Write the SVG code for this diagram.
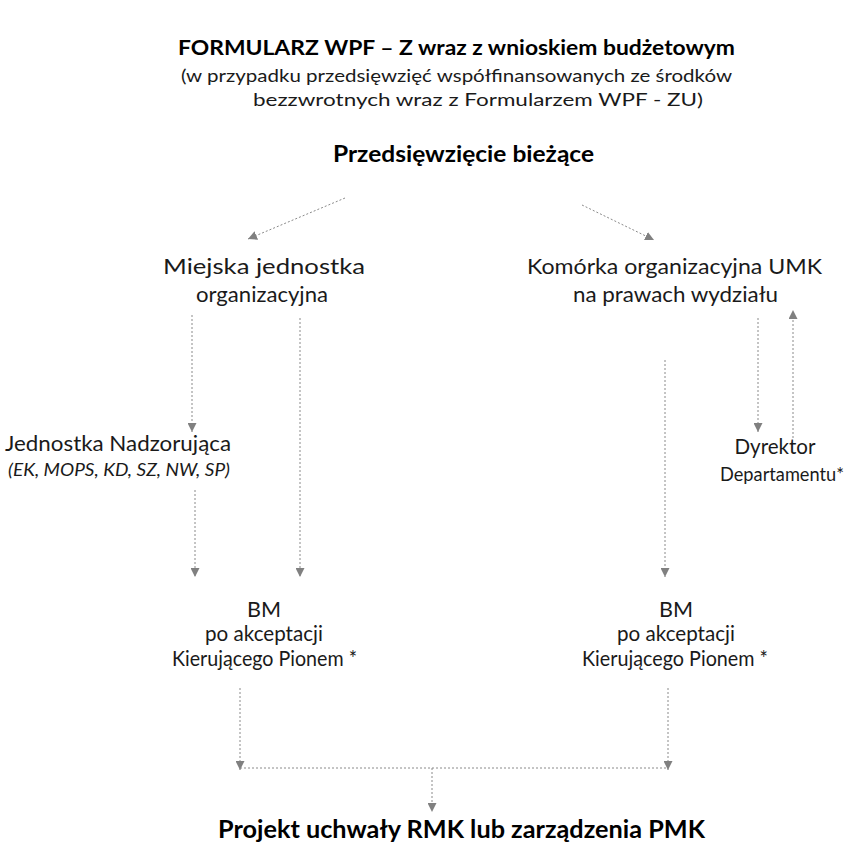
<svg xmlns="http://www.w3.org/2000/svg" width="851" height="850" viewBox="0 0 851 850">
<style>
text{font-family:"Lato","Open Sans","DejaVu Sans",sans-serif;fill:#1a1a1a;text-anchor:middle}
.b{font-weight:bold;fill:#000}
.t{font-size:21px}
.s{font-size:17.5px}
.n{font-size:21px}
.i{font-style:italic}
.c{fill:none;stroke:#8a8a8a;stroke-width:1;stroke-dasharray:2 2}
</style>
<defs>
<marker id="ah" viewBox="0 0 10 10" refX="10" refY="5" markerWidth="9" markerHeight="9" markerUnits="userSpaceOnUse" orient="auto">
<path d="M0,0 L10,5 L0,10 Z" fill="#808080"/>
</marker>
</defs>
<rect width="851" height="850" fill="#fff"/>
<g id="title">
<text class="b t" x="456.5" y="55" textLength="557" lengthAdjust="spacingAndGlyphs">FORMULARZ WPF – Z wraz z wnioskiem budżetowym</text>
<text class="s" x="456.5" y="82" textLength="551" lengthAdjust="spacingAndGlyphs">(w przypadku przedsięwzięć współfinansowanych ze środków</text>
<text class="s" x="478" y="106" textLength="450" lengthAdjust="spacingAndGlyphs">bezzwrotnych wraz z Formularzem WPF - ZU)</text>
</g>
<g id="n-przedsiewziecie">
<text class="b" style="font-size:22px" x="463.5" y="162" textLength="261" lengthAdjust="spacingAndGlyphs">Przedsięwzięcie bieżące</text>
</g>
<g id="n-miejska">
<text class="n" x="264" y="274" textLength="202" lengthAdjust="spacingAndGlyphs">Miejska jednostka</text>
<text class="n" x="262" y="302" textLength="132" lengthAdjust="spacingAndGlyphs">organizacyjna</text>
</g>
<g id="n-komorka">
<text class="n" x="674.5" y="274" textLength="295" lengthAdjust="spacingAndGlyphs">Komórka organizacyjna UMK</text>
<text class="n" x="675.5" y="302" textLength="205" lengthAdjust="spacingAndGlyphs">na prawach wydziału</text>
</g>
<g id="n-jednostka">
<text class="n" x="118" y="451" textLength="226" lengthAdjust="spacingAndGlyphs">Jednostka Nadzorująca</text>
<text class="n i" style="font-size:18px" x="119" y="476" textLength="222" lengthAdjust="spacingAndGlyphs">(EK, MOPS, KD, SZ, NW, SP)</text>
</g>
<g id="n-dyrektor">
<text class="n" x="775" y="454" textLength="81" lengthAdjust="spacingAndGlyphs">Dyrektor</text>
<text class="n" style="font-size:19.5px" x="782" y="481" textLength="124" lengthAdjust="spacingAndGlyphs">Departamentu*</text>
</g>
<g id="n-bm-left">
<text class="n" x="264" y="617" textLength="34" lengthAdjust="spacingAndGlyphs">BM</text>
<text class="n" x="264" y="641" textLength="118" lengthAdjust="spacingAndGlyphs">po akceptacji</text>
<text class="n" x="264.5" y="666" textLength="185" lengthAdjust="spacingAndGlyphs">Kierującego Pionem *</text>
</g>
<g id="n-bm-right">
<text class="n" x="676" y="617" textLength="34" lengthAdjust="spacingAndGlyphs">BM</text>
<text class="n" x="676" y="641" textLength="118" lengthAdjust="spacingAndGlyphs">po akceptacji</text>
<text class="n" x="675" y="666" textLength="186" lengthAdjust="spacingAndGlyphs">Kierującego Pionem *</text>
</g>
<g id="n-projekt">
<text class="b" style="font-size:25px" x="461.5" y="838" textLength="487" lengthAdjust="spacingAndGlyphs">Projekt uchwały RMK lub zarządzenia PMK</text>
</g>
<g id="connectors">
<line class="c" x1="345" y1="198" x2="248" y2="239" marker-end="url(#ah)"/>
<line class="c" x1="582" y1="205" x2="654" y2="240" marker-end="url(#ah)"/>
<line class="c" x1="192" y1="315" x2="192" y2="432" marker-end="url(#ah)"/>
<line class="c" x1="300" y1="318" x2="300" y2="577" marker-end="url(#ah)"/>
<line class="c" x1="195" y1="490" x2="195" y2="577" marker-end="url(#ah)"/>
<line class="c" x1="758" y1="318" x2="758" y2="432" marker-end="url(#ah)"/>
<line class="c" x1="793" y1="438" x2="793" y2="310" marker-end="url(#ah)"/>
<line class="c" x1="665" y1="360" x2="665" y2="577" marker-end="url(#ah)"/>
<line class="c" x1="240" y1="688" x2="240" y2="770" marker-end="url(#ah)"/>
<line class="c" x1="668" y1="688" x2="668" y2="770" marker-end="url(#ah)"/>
<line class="c" x1="240" y1="768" x2="668" y2="768"/>
<line class="c" x1="432" y1="768" x2="432" y2="812" marker-end="url(#ah)"/>
</g>
</svg>
